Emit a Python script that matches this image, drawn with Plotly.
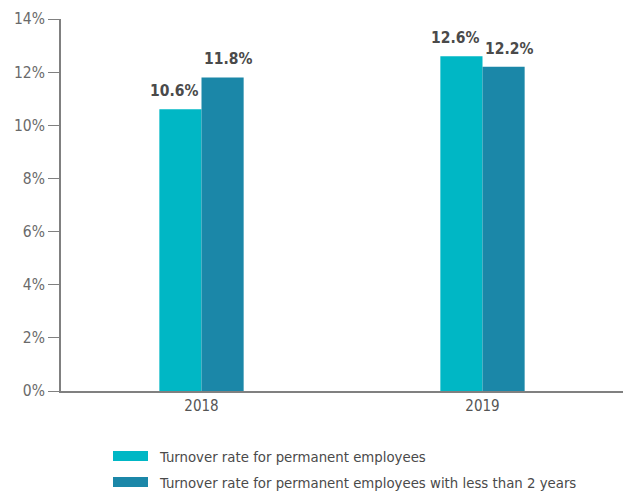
import plotly.graph_objects as go

years = ["2018", "2019"]
series_names = [
    "Turnover rate for permanent employees",
    "Turnover rate for permanent employees with less than 2 years",
]
series_values = [
    [10.6, 12.6],
    [11.8, 12.2],
]
series_colors = ["#00B7C5", "#1B87A8"]
y_ticks = [0, 2, 4, 6, 8, 10, 12, 14]
y_tick_labels = [f"{t}%" for t in y_ticks]

FONT = "DejaVu Sans Condensed, Roboto, Arial, sans-serif"

fig = go.Figure()
offsets = [-28, 26]
for name, vals, col, off in zip(series_names, series_values, series_colors, offsets):
    fig.add_trace(go.Bar(
        x=years, y=vals, name=name, marker=dict(color=col, line=dict(width=0)),
        showlegend=False, hoverinfo="skip",
    ))
    for i, v in enumerate(vals):
        fig.add_annotation(x=i, y=v, text=f"{v:.1f}%", showarrow=False,
                           xshift=off, yshift=7, yanchor="bottom", xanchor="center",
                           font=dict(family=FONT, size=15.5, color="#4a4a4a", weight="bold"))

fig.update_layout(
    width=626, height=493,
    margin=dict(l=61, r=3, t=19, b=102),
    paper_bgcolor="white", plot_bgcolor="white",
    barmode="group", bargap=0.7, bargroupgap=0,
    font=dict(family=FONT, color="#5a5a5a"),
    xaxis=dict(type="category", range=[-0.5, len(years) - 0.5],
               showline=True, linecolor="#808080", linewidth=2, ticks="",
               tickfont=dict(size=15, color="#555555"), showgrid=False),
    yaxis=dict(range=[0, 14], tickvals=y_ticks, ticktext=y_tick_labels,
               showline=True, linecolor="#808080", linewidth=2,
               ticks="outside", ticklen=11, tickcolor="#808080", tickwidth=1,
               tickfont=dict(size=15.5, color="#6a6a6a"), showgrid=False, zeroline=False),
)

# custom legend
legend_y = [456, 482]
for name, col, yy in zip(series_names, series_colors, legend_y):
    fig.add_shape(type="rect", xref="paper", yref="paper",
                  x0=(113 - 61) / 562, x1=(148 - 61) / 562,
                  y0=(391 - yy - 5) / 372, y1=(391 - yy + 5) / 372,
                  fillcolor=col, line=dict(width=0))
    fig.add_annotation(text=name, xref="paper", yref="paper",
                       x=(157 - 61) / 562, y=(391 - yy) / 372,
                       xanchor="left", yanchor="middle", showarrow=False,
                       font=dict(family=FONT, size=14.8, color="#4a4a4a"))

fig.write_html("out.html", config={"displayModeBar": False},
               post_script="document.body.style.margin='0';")
